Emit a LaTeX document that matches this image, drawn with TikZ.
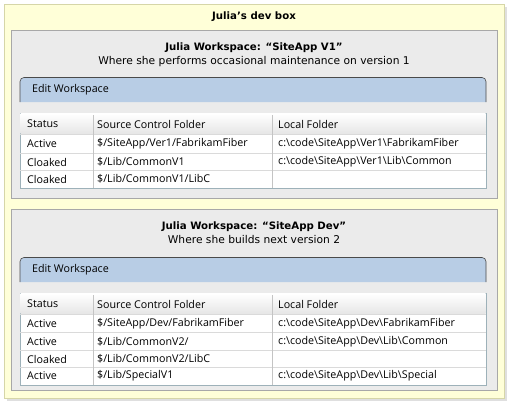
\documentclass[tikz,border=0pt]{standalone}
\usepackage{fontspec}
\setmainfont{DejaVu Sans}
\newfontfamily\gridfont{Open Sans}
\usepackage{tikz}
\usetikzlibrary{positioning,shadows}
\newcommand{\bsl}{\textbackslash}
\definecolor{boxyellow}{HTML}{FFFFD8}
\definecolor{yellowedge}{HTML}{D6D6A8}
\definecolor{wsgrey}{HTML}{EBEBEB}
\definecolor{greyedge}{HTML}{A8A8A8}
\definecolor{barblue}{HTML}{B8CDE5}
\definecolor{baredge}{HTML}{4A4A4A}
\definecolor{tabedge}{HTML}{9DB1B9}
\definecolor{headgrey}{HTML}{E6E6E6}
\definecolor{rowgrey}{HTML}{DADADA}
\tikzset{
  devbox/.style={draw=yellowedge,fill=boxyellow,line width=0.8pt,
    minimum width=500pt,minimum height=394pt,inner sep=0pt,
    drop shadow={shadow xshift=2.5pt,shadow yshift=-2.5pt,opacity=0.25}},
  wsbox/.style={draw=greyedge,fill=wsgrey,line width=0.8pt,
    minimum width=486pt,inner sep=0pt},
  bar/.style={draw=baredge,fill=barblue,line width=0.6pt,rounded corners=4pt},
  tabbox/.style={draw=tabedge,fill=white,line width=0.9pt,
    minimum width=466pt,inner sep=0pt,anchor=north west},
  head/.style={top color=white,bottom color=headgrey,minimum width=465pt,
    minimum height=20pt,inner sep=0pt,anchor=north west},
  rowline/.style={draw=rowgrey,line width=0.7pt},
  colline/.style={draw=rowgrey!90!black,line width=0.7pt},
  ttl/.style={font=\bfseries\fontsize{10.2}{13}\selectfont},
  sub/.style={font=\fontsize{10.7}{13}\selectfont},
  cell/.style={anchor=west,inner sep=0pt,font=\gridfont\fontsize{10.7}{12}\selectfont}
}

\begin{document}
\begin{tikzpicture}[x=1pt,y=-1pt]
  \useasboundingbox (0,0) rectangle (513,408);

  % outer box
  \node[devbox] (devbox) at (254,201) {};
  \node[ttl] (devtitle) at (254,17) {Julia’s dev box};

  % first workspace
  \node[wsbox,minimum height=168pt] (ws1) at (254,114) {};
  \node[ttl] (ws1title) at (254,48) {Julia Workspace: “SiteApp V1”};
  \node[sub] (ws1sub) at (254,61.5) {Where she performs occasional maintenance on version 1};
  \filldraw[bar] (20,102) -- (20,77.5) -- (486,77.5) -- (486,102);
  \node[cell] (edit1) at (32,90) {Edit Workspace};

  \node[tabbox,minimum height=75pt] (tab1) at (20,113) {};
  \node[head] (head1) at (20.5,113.5) {};
  \draw[rowline] (20,134) -- (486,134) (20,153) -- (486,153) (20,170) -- (486,170);
  \draw[colline] (93,115) -- (93,188) (272,115) -- (272,188);
  \node[cell] (h1a) at (27,124) {Status};
  \node[cell] (h1b) at (97,124) {Source Control Folder};
  \node[cell] (h1c) at (278,124) {Local Folder};
  \node[cell] (r1a1) at (27,144) {Active};
  \node[cell] (r1b1) at (97,144) {\$/SiteApp/Ver1/FabrikamFiber};
  \node[cell] (r1c1) at (278,144) {c:\bsl code\bsl SiteApp\bsl Ver1\bsl FabrikamFiber};
  \node[cell] (r1a2) at (27,162) {Cloaked};
  \node[cell] (r1b2) at (97,162) {\$/Lib/CommonV1};
  \node[cell] (r1c2) at (278,162) {c:\bsl code\bsl SiteApp\bsl Ver1\bsl Lib\bsl Common};
  \node[cell] (r1a3) at (27,179) {Cloaked};
  \node[cell] (r1b3) at (97,179) {\$/Lib/CommonV1/LibC};

  % second workspace
  \node[wsbox,minimum height=181pt] (ws2) at (254,299.5) {};
  \node[ttl] (ws2title) at (254,227) {Julia Workspace: “SiteApp Dev”};
  \node[sub] (ws2sub) at (254,240) {Where she builds next version 2};
  \filldraw[bar] (20,282) -- (20,257.5) -- (486,257.5) -- (486,282);
  \node[cell] (edit2) at (32,270) {Edit Workspace};

  \node[tabbox,minimum height=92pt] (tab2) at (20,293) {};
  \node[head] (head2) at (20.5,293.5) {};
  \draw[rowline] (20,314) -- (486,314) (20,332) -- (486,332) (20,350) -- (486,350)
    (20,367) -- (486,367);
  \draw[colline] (93,295) -- (93,385) (272,295) -- (272,385);
  \node[cell] (h2a) at (27,304) {Status};
  \node[cell] (h2b) at (97,304) {Source Control Folder};
  \node[cell] (h2c) at (278,304) {Local Folder};
  \node[cell] (r2a1) at (27,323.5) {Active};
  \node[cell] (r2b1) at (97,323.5) {\$/SiteApp/Dev/FabrikamFiber};
  \node[cell] (r2c1) at (278,323.5) {c:\bsl code\bsl SiteApp\bsl Dev\bsl FabrikamFiber};
  \node[cell] (r2a2) at (27,341.5) {Active};
  \node[cell] (r2b2) at (97,341.5) {\$/Lib/CommonV2/};
  \node[cell] (r2c2) at (278,341.5) {c:\bsl code\bsl SiteApp\bsl Dev\bsl Lib\bsl Common};
  \node[cell] (r2a3) at (27,359) {Cloaked};
  \node[cell] (r2b3) at (97,359) {\$/Lib/CommonV2/LibC};
  \node[cell] (r2a4) at (27,376) {Active};
  \node[cell] (r2b4) at (97,376) {\$/Lib/SpecialV1};
  \node[cell] (r2c4) at (278,376) {c:\bsl code\bsl SiteApp\bsl Dev\bsl Lib\bsl Special};
\end{tikzpicture}
\end{document}
